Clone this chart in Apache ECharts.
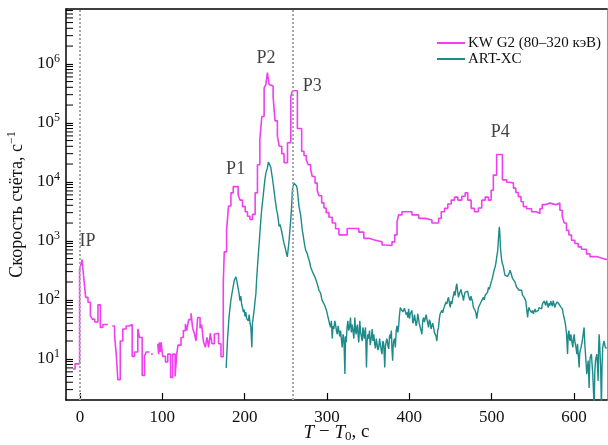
<!DOCTYPE html>
<html>
<head>
<meta charset="utf-8">
<script src="https://cdn.jsdelivr.net/npm/echarts@6/dist/echarts.min.js"></script>
<style>
  html, body { margin: 0; padding: 0; background: #fff; }
  #chart { width: 608px; height: 445px; }
</style>
</head>
<body>
<div id="chart"></div>
<script>
// KW G2 (80-320 keV): bin start time, count rate (step curve, null = gap)
var kwT = [-8.5, -6, -0.5, 1.5, 2.5, 4.9, 6.9, 9.7, 12.6, 15, 17.8, 21.8, 24.7, 27.8, 33.9, 34,
  39.2, 42, 44, 46, 48.9, 52, 56, 60, 63.4, 66.2, 70.2, 72.3, 75.5, 78.3, 80.4, 84.4, 84.5,
  86.4, 88.4, 88.5, 94.4, 95.5, 96.5, 97.5, 98.5, 100.5, 103.8, 106.6, 110, 112.5, 115.5, 117.5,
  119, 122.7, 125.5, 128, 129.6, 132, 134.9, 136.8, 138.9, 140.9, 142.9, 145.8, 147.7, 149.8,
  152.2, 154.2, 156.2, 158.2, 160.3, 163.1, 165.1, 168.3, 171.2, 174, 175.2, 178, 180.4, 183.3,
  186.1, 192.1, 194.2, 197.3, 200.6, 203.4, 206.3, 209.4, 212.7, 215.5, 218.4, 220.8, 223.6,
  225.7, 227.6, 229.7, 231.7, 234.5, 236.9, 239.7, 242, 245, 247.8, 252, 256, 258, 264, 269.2,
  272, 274.8, 277.2, 280.1, 282.1, 285.4, 288.1, 290.2, 293.5, 296.2, 299, 302.3, 306.3, 310.4,
  314.4, 324.5, 338.6, 344.7, 350.7, 358.8, 366.8, 370.9, 378.9, 382.2, 385, 387, 391, 403.1,
  411.3, 419.4, 427.4, 435.5, 438.7, 442.7, 446.7, 450.8, 454.8, 458.8, 463.7, 467.8, 470.9, 475,
  479, 483.8, 487.9, 492, 496, 499.3, 502, 506, 513, 518.2, 522.3, 526.4, 529.2, 532.3, 535.6,
  538.4, 542.4, 548.4, 554.5, 558.5, 561.3, 564.6, 570.7, 577.5, 582.8, 585.6, 588, 590.8, 593.7,
  596.9, 601, 605, 609, 615.1, 619.2, 627.2, 635, 640];
var kwC = [6.7, 8.2, 320, 420, 480, 210, 110, 91, 54, 47, 42, 82, 34, 38, 38, null,
  36, 24.5, 12, 4.4, 20, 32, 36, 38, 11, 13, 32, 23, 5.2, 11, 13, 13, null,
  12, 12, null, 18, 12, 19, 13, 19, 11, 8.8, 12, 4.8, 12, 5, 12,
  17, 23, 30, 39, 30, 46, 59, 33, 27, 20, 50, 33, 38, 20,
  15.6, 23, 15.6, 27, 18, 26, 27, 18, 10.8, 190, 650, 1500, 3900, 6500,
  8300, 6000, 4900, 3800, 3100, 2600, 2300, 2800, 6500, 19500, 52000, 128000, 390000,
  445000, 710000, 445000, 420000, 280000, 108000, 60000, 40000, 30000, 21000, 46000, 280000, 350000, 80000, 33000,
  28000, 23500, 19500, 16000, 12300, 9500, 7200, 5800, 4400, 3600, 3000, 2500, 2000, 1600,
  1260, 1620, 1400, 1100, 1020, 960, 850, 830, 960, 1260, 2100, 2750, 3100, 2750,
  2400, 2250, 2000, 2400, 3100, 3550, 4200, 4900, 5500, 4900, 5700, 6500, 4900, 3550,
  3100, 3600, 4900, 5500, 4900, 7200, 13000, 29000, 10800, 9800, 9500, 7800, 6600, 5600, 4600,
  3800, 3500, 3100, 2900, 3500, 4100, 4350, 4100, 4350, 3300, 2600, 2000, 1500, 1250,
  1020, 900, 790, 720, 600, 540, 500, 480, 480];

// ART-XC: time, count rate
var artT = [177.5, 179.2, 181.2, 183.3, 185.2, 187.3, 189.3, 190.3, 191.3, 192.3, 193.3, 194.2, 195.4,
  196.3, 197.3, 198.4, 199.4, 200.4, 201.4, 202.4, 203.4, 204.4, 205.4, 206.5, 207.5, 208.7, 209.4,
  210.5, 211.5, 212.6, 213.6, 214.5, 215.5, 216.6, 217.6, 218.6, 219.6, 220.5, 221.5, 222.6, 223.6,
  224.6, 225.7, 226.6, 227.6, 228.7, 229.7, 230.7, 231.7, 232.7, 233.7, 234.7, 235.7, 236.8, 237.8,
  238.8, 239.7, 240.8, 241.8, 242.8, 243.8, 244.8, 245.8, 246.8, 247.8, 248.8, 249.8, 250.8, 251.8,
  252.8, 253.9, 254.9, 255.9, 257, 257.9, 259, 259.9, 260.9, 261.9, 263, 264, 265, 266, 267, 268,
  269, 270, 271, 272, 273, 274.1, 275.1, 276.1, 277.1, 278.1, 279.1, 280.1, 281.1, 282.1, 283.2,
  284.2, 285.2, 286.2, 287.2, 288.2, 289.2, 290.2, 291.2, 292.2, 293.2, 294.2, 295.3, 296.3, 297.3,
  298.3, 299.3, 300.3, 301.3, 302.3, 303.3, 304.3, 305.3, 306.3, 307.3, 308.3, 309.4, 310.4, 311.4,
  312.4, 313.4, 314.4, 315.4, 316.4, 317.4, 318.4, 319.5, 320.5, 321.7, 322.5, 323.3, 324.3, 325.3,
  326.3, 327.3, 328.5, 329.5, 330.5, 331.5, 332.6, 333.8, 334.6, 335.4, 336.2, 337, 337.8, 338.6,
  339.8, 340.8, 341.8, 342.7, 343.5, 344.3, 345.1, 345.9, 346.7, 347.9, 348.7, 349.5, 350.5, 351.6,
  352.4, 353.2, 354, 354.8, 355.8, 356.8, 357.8, 358.8, 359.8, 360.9, 361.8, 362.8, 363.8, 364.8,
  365.8, 366.8, 367.8, 368.9, 370.1, 370.9, 371.7, 372.5, 373.3, 374.1, 374.9, 375.9, 376.9, 377.5,
  378.1, 378.9, 379.7, 380.3, 380.9, 382, 383, 384, 385, 386, 387, 388, 389, 390, 391, 392, 393, 394,
  395.1, 396.1, 397.1, 398.1, 399.1, 400.1, 401.1, 402.1, 403.1, 404.2, 405.2, 406.2, 407.2, 408.2,
  409.2, 410.2, 411.2, 412.2, 413.2, 414.2, 415.2, 416.2, 417.2, 418.3, 419.3, 420.3, 421.3, 422.3,
  423.3, 424.3, 425.3, 426.3, 427.3, 428.3, 429.4, 430.4, 431.4, 432.4, 433.4, 434.4, 435.4, 436.4,
  437.4, 438.4, 439.5, 440.5, 441.5, 442.5, 443.5, 444.5, 445.5, 446.5, 447.5, 448.5, 449.6, 450.6,
  451.6, 452.6, 453.6, 454.6, 455.6, 456.6, 457.6, 458.6, 459.6, 460.6, 461.7, 462.7, 463.7, 464.7,
  465.7, 466.7, 467.7, 468.7, 469.7, 470.7, 471.8, 472.8, 473.8, 474.8, 475.8, 476.8, 477.8, 478.8,
  479.8, 480.8, 481.8, 482.8, 483.9, 484.9, 485.9, 486.9, 487.9, 488.9, 489.9, 490.9, 491.9, 493,
  494, 495, 496, 497, 498, 499, 500, 501, 502, 503, 504.1, 505.1, 506.1, 507.3, 508.1, 508.7, 509.3,
  509.9, 510.5, 511.3, 512.1, 513.2, 514.2, 515.2, 516.2, 517.2, 518.2, 519.2, 520.2, 521.2, 522.2,
  523.2, 524.3, 525.3, 526.3, 527.3, 528.3, 529.3, 530.3, 531.3, 532.3, 533.3, 534.3, 535.4, 536.4,
  537.4, 538.4, 539.4, 540.4, 541.4, 542.4, 543.6, 544.4, 545.2, 546.5, 547.5, 548.5, 549.5, 550.5,
  551.5, 552.5, 553.5, 554.5, 555.6, 556.6, 557.6, 558.6, 559.6, 560.6, 561.6, 562.6, 563.6, 564.6,
  565.6, 566.6, 567.6, 568.7, 569.7, 570.7, 571.7, 572.7, 573.7, 574.7, 575.7, 576.7, 577.7, 578.7,
  579.7, 580.8, 581.8, 582.8, 583.8, 584.8, 585.8, 586.8, 587.8, 588.8, 589.8, 590.9, 592.1, 592.9,
  593.7, 594.5, 595.3, 596.1, 596.9, 597.7, 598.5, 599.3, 600.1, 600.9, 601.7, 602.5, 603.4, 604.2,
  605, 606.2, 606.8, 607.4, 608.2, 609, 610, 611, 611.6, 612.2, 613, 613.9, 614.7, 615.5, 616.3,
  617.1, 617.7, 618.3, 618.9, 619.5, 620.3, 621.1, 621.9, 622.7, 623.5, 624.4, 625.2, 626, 626.8,
  627.6, 628.4, 629.2, 629.8, 630.4, 631, 631.6, 632.4, 633.2, 634, 634.8, 635.6, 636.5, 637.3,
  638.1, 639.5];
var artC = [7, 22, 55, 100, 145, 212, 245, 215, 180, 150, 125, 97, 115,
  84, 74, 62, 68, 52, 62, 48, 50, 44, 56, 40, 34, 15.6, 40,
  52, 68, 95, 127, 220, 360, 600, 910, 1450, 2240, 3200, 4350, 6000, 8300,
  11000, 14000, 15500, 17000, 21500, 21000, 19000, 17500, 14000, 11500, 9000, 7000, 5200, 4200,
  3300, 2950, 2300, 1750, 1900, 1700, 1450, 1250, 1050, 900, 800, 700, 600, 535,
  560, 1000, 1500, 2240, 3800, 7200, 8500, 9500, 10200, 9800, 8500, 7200, 5200, 3800, 3200, 2700,
  2000, 1500, 1250, 1000, 820, 690, 640, 600, 520, 480, 420, 360, 330, 310, 280,
  260, 245, 228, 205, 190, 165, 145, 138, 130, 110, 97, 92, 90, 80,
  74, 66, 58, 50, 44, 38, 34, 44, 22, 36, 32, 44, 38, 30,
  26, 36, 34, 24, 30, 22, 15.6, 26, 22, 5.5, 24, 19, 34, 44,
  30, 34, 50, 28, 38, 30, 22, 50, 30, 26, 34, 38, 24, 19,
  44, 28, 30, 20, 34, 30, 22, 26, 34, 7.1, 20, 26, 22, 30,
  17, 20, 24, 32, 20, 26, 18, 15, 22, 22, 14, 15.6, 22, 23,
  14, 12, 20, 17.8, 7.1, 16, 15.6, 22, 20, 16, 14.7, 24, 26, 22,
  30, 14, 9.3, 16, 20, 22, 15.6, 30, 36, 28, 36, 55, 74, 70, 80, 62, 66, 72,
  70, 56, 61, 50, 70, 48, 58, 62, 66, 40, 44, 56, 54, 36,
  42, 58, 58, 38, 34, 30, 26, 44, 50, 42, 39, 56, 58, 40,
  34, 46, 42, 32, 30, 40, 34, 28, 26, 24, 20, 30, 34, 48,
  58, 56, 66, 60, 70, 76, 74, 92, 85, 100, 110, 90, 74, 95,
  85, 105, 100, 140, 118, 160, 187, 140, 110, 125, 118, 150, 126, 115,
  97, 120, 135, 125, 126, 140, 118, 105, 97, 115, 110, 92, 74, 80,
  66, 60, 48, 60, 74, 70, 85, 80, 97, 90, 110, 100, 118, 110,
  126, 135, 163, 150, 145, 190, 213, 240, 277, 320, 362, 420, 534, 690, 1020, 1400, 1730,
  1300, 790, 600, 466, 400, 362, 300, 260, 270, 277, 250, 243, 280, 316,
  290, 277, 230, 213, 220, 199, 180, 163, 170, 154, 145, 135, 140, 145,
  120, 126, 110, 104, 95, 91, 50, 66, 74, 66, 70, 61, 66, 58,
  64, 70, 62, 58, 66, 66, 74, 80, 74, 70, 85, 85, 95, 91,
  80, 97, 85, 74, 88, 80, 95, 85, 78, 97, 90, 74, 84, 80,
  92, 91, 84, 85, 76, 74, 70, 58, 50, 44, 36, 26, 12, 26,
  30, 22, 20, 26, 28, 18, 15.6, 22, 26, 20, 20, 15, 12, 18,
  17.8, 7.1, 12, 13.5, 15, 15.6, 20, 26, 30, 34, 18, 12, 8, 5.5, 7.1,
  9.3, 6, 3.2, 7, 10.5, 11, 12, 8, 5.5, 3, 1.5, 6, 9.3, 10.5,
  12, 8, 4.2, 14, 26, 20, 12, 6, 1.5, 8, 15.6, 18, 20, 17,
  15.6, 15];

// peak annotations
var peakNames = ['IP', 'P1', 'P2', 'P3', 'P4'];
var peakX = [9, 189, 226, 282, 510.5];
var peakY = [1000, 16000, 1230000, 410000, 69000];

// vertical reference lines
var refLines = [0, 258];

// log-axis minor tick values
var minorVals = [3, 4, 5, 6, 7, 8, 9, 20, 30, 40, 50, 60, 70, 80, 90,
  200, 300, 400, 500, 600, 700, 800, 900, 2000, 3000, 4000, 5000, 6000, 7000, 8000, 9000,
  20000, 30000, 40000, 50000, 60000, 70000, 80000, 90000,
  200000, 300000, 400000, 500000, 600000, 700000, 800000, 900000,
  2000000, 3000000, 4000000, 5000000, 6000000, 7000000, 8000000];

var X_MIN = -17, X_MAX = 640, Y_MIN = 2, Y_MAX = 8.5e6;
var FONT = '"Liberation Serif", "DejaVu Serif", serif';

function zip(a, b) {
  var out = [];
  for (var i = 0; i < a.length; i++) out.push([a[i], b[i]]);
  return out;
}

var chart = echarts.init(document.getElementById('chart'));

var peakData = [];
for (var i = 0; i < peakNames.length; i++) {
  peakData.push({ name: peakNames[i], value: [peakX[i], peakY[i]] });
}

chart.setOption({
  animation: false,
  textStyle: { fontFamily: FONT },
  grid: { left: 66, right: 1, top: 9, bottom: 45, outerBoundsMode: 'none', containLabel: false },
  legend: {
    data: ['KW G2 (80–320 кэВ)', 'ART-XC'],
    orient: 'vertical',
    left: 432,
    top: 30,
    itemWidth: 28,
    itemHeight: 2,
    itemGap: 0,
    icon: 'rect',
    textStyle: { fontFamily: FONT, fontSize: 15, color: '#111', lineHeight: 16, padding: [0, 0, 0, -2] }
  },
  xAxis: [{
    type: 'value',
    min: X_MIN,
    max: X_MAX,
    splitNumber: 6,
    name: '{i|T} − {i|T}{sub|0}, с',
    nameLocation: 'middle',
    nameGap: 22,
    nameMoveOverlap: false,
    nameTextStyle: {
      fontFamily: FONT, fontSize: 19, color: '#111',
      rich: {
        i: { fontFamily: FONT, fontSize: 19, fontStyle: 'italic', color: '#111' },
        sub: { fontFamily: FONT, fontSize: 13, color: '#111', padding: [8, 0, 0, 0] }
      }
    },
    axisLine: { onZero: false, lineStyle: { color: '#000', width: 1.5 } },
    axisTick: { inside: true, length: 7, lineStyle: { color: '#000', width: 1.2 } },
    axisLabel: { fontFamily: FONT, fontSize: 17, color: '#111', margin: 9, showMinLabel: false, showMaxLabel: false },
    splitLine: { show: false }
  }, {
    type: 'value',
    position: 'top',
    min: X_MIN,
    max: X_MAX,
    axisLine: { onZero: false, lineStyle: { color: '#000', width: 1.5 } },
    axisTick: { show: false },
    axisLabel: { show: false },
    splitLine: { show: false }
  }],
  yAxis: [{
    type: 'log',
    logBase: 10,
    min: Y_MIN,
    max: Y_MAX,
    name: 'Скорость счёта, с{sup|−1}',
    nameLocation: 'middle',
    nameGap: 38,
    nameMoveOverlap: false,
    nameTextStyle: {
      fontFamily: FONT, fontSize: 18, color: '#111',
      rich: { sup: { fontFamily: FONT, fontSize: 12, color: '#111', padding: [0, 0, 10, 0] } }
    },
    axisLine: { show: true, onZero: false, lineStyle: { color: '#000', width: 1.5 } },
    axisTick: { inside: true, length: 7, lineStyle: { color: '#000', width: 1.2 } },
    axisLabel: {
      fontFamily: FONT, fontSize: 17, color: '#111', margin: 6,
      showMinLabel: false, showMaxLabel: false,
      formatter: function (v) {
        var n = Math.round(Math.log10(v));
        if (Math.abs(Math.pow(10, n) - v) / v > 1e-6) return '';
        return '{b|10}{s|' + n + '}';
      },
      rich: {
        b: { fontFamily: FONT, fontSize: 17, color: '#111' },
        s: { fontFamily: FONT, fontSize: 12, color: '#111', padding: [0, 0, 9, 0] }
      }
    },
    splitLine: { show: false }
  }, {
    type: 'log',
    position: 'right',
    min: Y_MIN,
    max: Y_MAX,
    axisLine: { show: true, onZero: false, lineStyle: { color: '#999', width: 1 } },
    axisTick: { show: false },
    axisLabel: { show: false },
    splitLine: { show: false }
  }],
  series: [{
    name: 'KW G2 (80–320 кэВ)',
    type: 'line',
    step: 'end',
    showSymbol: false,
    connectNulls: false,
    data: zip(kwT, kwC),
    lineStyle: { color: '#ee40ee', width: 1.6 },
    itemStyle: { color: '#ee40ee' },
    markLine: {
      silent: true,
      symbol: 'none',
      label: { show: false },
      lineStyle: { color: '#a8a8a8', type: [2, 2], width: 2 },
      data: refLines.map(function (v) { return { xAxis: v }; })
    },
    z: 2
  }, {
    name: 'ART-XC',
    type: 'line',
    showSymbol: false,
    data: zip(artT, artC),
    lineStyle: { color: '#1e8a8a', width: 1.4 },
    itemStyle: { color: '#1e8a8a' },
    z: 3
  }, {
    type: 'scatter',
    data: peakData,
    symbolSize: 0,
    silent: true,
    label: {
      show: true,
      position: 'inside',
      formatter: '{b}',
      fontFamily: FONT,
      fontSize: 18,
      color: '#111'
    },
    z: 5
  }, {
    type: 'custom',
    silent: true,
    clip: false,
    data: minorVals.map(function (v) { return [X_MIN, v]; }),
    renderItem: function (params, api) {
      var p = api.coord([api.value(0), api.value(1)]);
      return {
        type: 'line',
        shape: { x1: p[0], y1: p[1], x2: p[0] + 7, y2: p[1] },
        style: { stroke: '#000', lineWidth: 1 }
      };
    },
    z: 4
  }]
});
</script>
</body>
</html>
